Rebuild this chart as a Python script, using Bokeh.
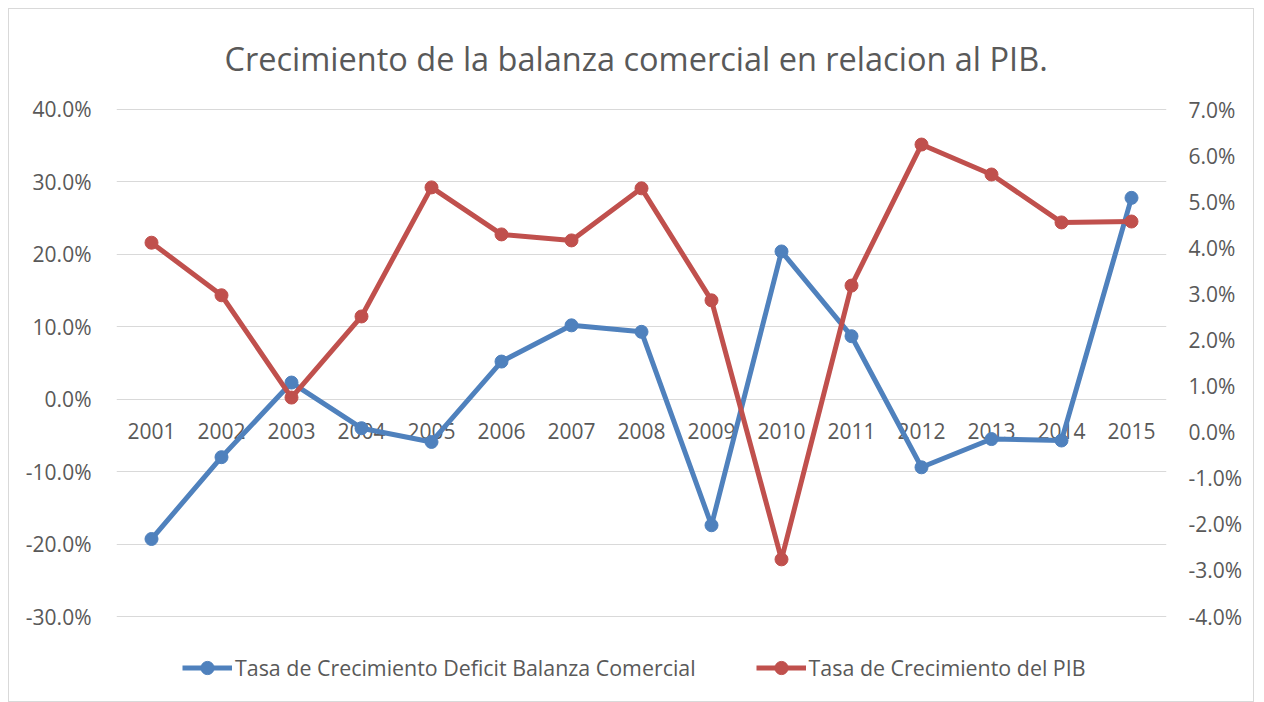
from bokeh.plotting import figure
from bokeh.models import (Range1d, LinearAxis, FixedTicker, PrintfTickFormatter,
                          Legend, LegendItem, FactorRange, ColumnDataSource)
from bokeh.embed import file_html
from bokeh.resources import INLINE
from bokeh.core.properties import value

years = [str(y) for y in range(2001, 2016)]
deficit = [-19.3, -8.0, 2.3, -4.0, -5.9, 5.2, 10.2, 9.3, -17.4, 20.4, 8.7, -9.4, -5.5, -5.7, 27.8]
pib = [4.11, 2.97, 0.75, 2.51, 5.31, 4.29, 4.16, 5.29, 2.86, -2.76, 3.18, 6.24, 5.59, 4.55, 4.57]
left_ticks = [-30, -20, -10, 0, 10, 20, 30, 40]
right_ticks = [-4, -3, -2, -1, 0, 1, 2, 3, 4, 5, 6, 7]

BLUE = "#4F81BD"
RED = "#C0504D"
TXT = "#595959"
GRID = "#D9D9D9"
FONT = "Open Sans"

src = ColumnDataSource(dict(x=years, d=deficit, p=pib, zero=[0] * len(years)))

# frame extends below the -30% gridline so the legend can sit inside it
p = figure(width=1246, height=694, output_backend="svg", toolbar_location=None,
           x_range=FactorRange(*years, range_padding=0),
           y_range=Range1d(-41.735, 40.552),
           min_border_left=107, min_border_right=89, min_border_top=95, min_border_bottom=2)
p.extra_y_ranges = {"pib": Range1d(-5.844, 7.087)}
p.styles = {"border": "1px solid #D9D9D9", "margin-left": "8px", "margin-top": "8px"}

p.title.text = "Crecimiento de la balanza comercial en relacion al PIB."
p.title.align = "left"
p.title.text_font = FONT
p.title.text_font_size = "32.5px"
p.title.text_font_style = "normal"
p.title.text_color = TXT
p.title.standoff = 49
p.title.offset = 108

p.outline_line_color = None
p.xgrid.visible = False
p.xaxis.visible = False
p.ygrid.grid_line_color = GRID
p.ygrid.grid_line_width = 1

ya = p.yaxis[0]
ya.ticker = FixedTicker(ticks=left_ticks)
ya.formatter = PrintfTickFormatter(format="%.1f%%")
ya.axis_line_color = None
ya.major_tick_line_color = None
ya.minor_tick_line_color = None
ya.major_label_standoff = 19
ya.major_label_text_font = FONT
ya.major_label_text_font_size = "21px"
ya.major_label_text_color = TXT

ra = LinearAxis(y_range_name="pib", ticker=FixedTicker(ticks=right_ticks),
                formatter=PrintfTickFormatter(format="%.1f%%"))
ra.axis_line_color = None
ra.major_tick_line_color = None
ra.minor_tick_line_color = None
ra.major_label_standoff = 16
ra.major_label_text_font = FONT
ra.major_label_text_font_size = "21px"
ra.major_label_text_color = TXT
p.add_layout(ra, "right")

# category labels next to the 0% line
p.text(x="x", y="zero", text="x", source=src, y_offset=32,
       text_align="center", text_baseline="middle",
       text_font=value(FONT), text_font_size="21px", text_color=TXT)

lb = p.line("x", "d", source=src, line_color=BLUE, line_width=5, line_join="round")
cb = p.scatter("x", "d", source=src, size=13, fill_color=BLUE, line_color=BLUE)
lr = p.line("x", "p", source=src, y_range_name="pib", line_color=RED, line_width=5, line_join="round")
cr = p.scatter("x", "p", source=src, y_range_name="pib", size=13, fill_color=RED, line_color=RED)

legend = Legend(items=[
    LegendItem(label="Tasa de Crecimiento Deficit Balanza Comercial", renderers=[lb, cb]),
    LegendItem(label="Tasa de Crecimiento del PIB", renderers=[lr, cr]),
], orientation="horizontal", location=(66, 17))
legend.border_line_color = None
legend.background_fill_alpha = 0
legend.label_text_font = FONT
legend.label_text_font_size = "21.4px"
legend.label_text_color = TXT
legend.glyph_width = 50
legend.glyph_height = 33
legend.label_standoff = 3
legend.spacing = 60
legend.margin = 0
legend.padding = 0
p.add_layout(legend, "center")

open("out.html", "w").write(file_html(p, INLINE))
